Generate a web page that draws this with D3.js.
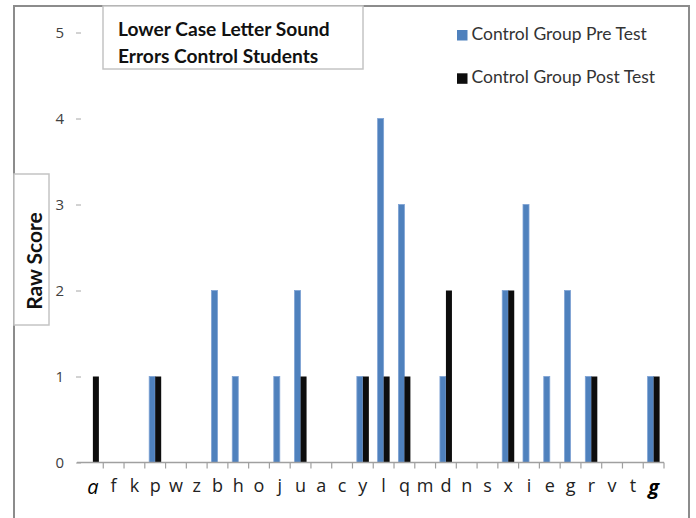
<!DOCTYPE html>
<html>
<head>
<meta charset="utf-8">
<script src="https://cdn.jsdelivr.net/npm/d3@7"></script>
<style>
  html, body { margin: 0; padding: 0; background: #fff; }
  svg { display: block; }
</style>
</head>
<body>
<svg id="chart" width="696" height="518"></svg>
<script>
const categories = ["a","f","k","p","w","z","b","h","o","j","u","a","c","y","l","q","m","d","n","s","x","i","e","g","r","v","t","g"];
const preTest  = [0,0,0,1,0,0,2,1,0,1,2,0,0,1,4,3,0,1,0,0,2,3,1,2,1,0,0,1];
const postTest = [1,0,0,1,0,0,0,0,0,0,1,0,0,1,1,1,0,2,0,0,2,0,0,0,1,0,0,1];
const seriesNames = ["Control Group Pre Test", "Control Group Post Test"];
const seriesColors = ["#4F81BD", "#0d0d0d"];
const yTicks = [0, 1, 2, 3, 4, 5];
const titleLines = ["Lower Case Letter Sound", "Errors Control Students"];
const yTitle = "Raw Score";

const svg = d3.select("#chart");

// outer frame
svg.append("rect").attr("x", 14).attr("y", 6).attr("width", 675).attr("height", 530)
  .attr("fill", "#fff").attr("stroke", "#8c8c8c").attr("stroke-width", 2);

const idx = d3.range(categories.length);
const x = d3.scaleBand().domain(idx).range([82.5, 664]).paddingInner(0).paddingOuter(0);
const x1 = d3.scaleBand().domain([0, 1]).range([0, x.bandwidth()]).paddingOuter(0.73).paddingInner(0);
const y = d3.scaleLinear().domain([0, 5]).range([462.5, 32.5]);

// y axis (ticks + labels only)
const yAxis = svg.append("g").attr("transform", "translate(81,0)")
  .call(d3.axisLeft(y).tickValues(yTicks).tickSize(5).tickPadding(12).tickFormat(d3.format("d")));
yAxis.select(".domain").remove();
yAxis.selectAll(".tick line").attr("stroke", "#a6a6a6");
yAxis.selectAll(".tick text").attr("font-family", "Open Sans").attr("font-size", 15).attr("fill", "#404040");

// bars
const data = idx.map(i => [preTest[i], postTest[i]]);
const groups = svg.append("g").selectAll("g").data(data).join("g")
  .attr("transform", (d, i) => `translate(${x(i)},0)`);
groups.selectAll("rect").data(d => d.map((v, s) => ({v, s}))).join("rect")
  .filter(d => d.v > 0)
  .attr("x", d => x1(d.s))
  .attr("width", x1.bandwidth())
  .attr("y", d => y(d.v))
  .attr("height", d => y(0) - y(d.v))
  .attr("fill", d => seriesColors[d.s])
  .attr("stroke", d => d.s === 0 ? "#7ea2d4" : "none")
  .attr("stroke-width", 0.8);

// x axis baseline + boundary ticks
const xg = svg.append("g");
xg.append("line").attr("x1", 77).attr("x2", x.range()[1]).attr("y1", y(0)).attr("y2", y(0))
  .attr("stroke", "#a0a0a0").attr("stroke-width", 1.5);
xg.selectAll("line.tk").data(idx).join("line").attr("class", "tk")
  .attr("x1", i => x(i) + x.bandwidth()).attr("x2", i => x(i) + x.bandwidth())
  .attr("y1", y(0)).attr("y2", y(0) + 6)
  .attr("stroke", "#a0a0a0").attr("stroke-width", 1.2);

const xAxis = svg.append("g").attr("transform", `translate(0,${y(0)})`)
  .call(d3.axisBottom(x).tickSize(0).tickPadding(17).tickFormat(i => categories[i]));
xAxis.select(".domain").remove();
xAxis.selectAll(".tick text").attr("font-family", "Open Sans").attr("font-size", 18).attr("fill", "#222");
xAxis.selectAll(".tick text").filter(i => i === 0)
  .attr("font-style", "italic").attr("font-size", 20).attr("fill", "#000");
xAxis.selectAll(".tick text").filter(i => i === categories.length - 1)
  .attr("font-style", "italic").attr("font-weight", "bold").attr("font-size", 20).attr("fill", "#000");

// title box
svg.append("rect").attr("x", 103).attr("y", 6).attr("width", 260).attr("height", 63)
  .attr("fill", "#fff").attr("stroke", "#c4c4c4").attr("stroke-width", 1.5);
svg.append("g").selectAll("text").data(titleLines).join("text")
  .attr("x", 118).attr("y", (d, i) => 36 + i * 26.5)
  .attr("font-family", "Lato").attr("font-weight", "bold").attr("font-size", 19.2).attr("fill", "#111")
  .text(d => d);

// y title box
svg.append("rect").attr("x", 14).attr("y", 174).attr("width", 35).attr("height", 151)
  .attr("fill", "#fff").attr("stroke", "#c4c4c4").attr("stroke-width", 1.5);
svg.append("text").attr("transform", "translate(42,261) rotate(-90)")
  .attr("text-anchor", "middle").attr("font-family", "Lato").attr("font-weight", "bold")
  .attr("font-size", 21).attr("fill", "#111").text(yTitle);

// legend
const leg = svg.append("g").selectAll("g").data(seriesNames).join("g")
  .attr("transform", (d, i) => `translate(457,${30 + i * 43.3})`);
leg.append("rect").attr("width", 10.5).attr("height", 10.5).attr("fill", (d, i) => seriesColors[i]);
leg.append("text").attr("x", 14.5).attr("y", 10)
  .attr("font-family", "Lato").attr("font-size", 17.5).attr("fill", "#333").text(d => d);
</script>
</body>
</html>
